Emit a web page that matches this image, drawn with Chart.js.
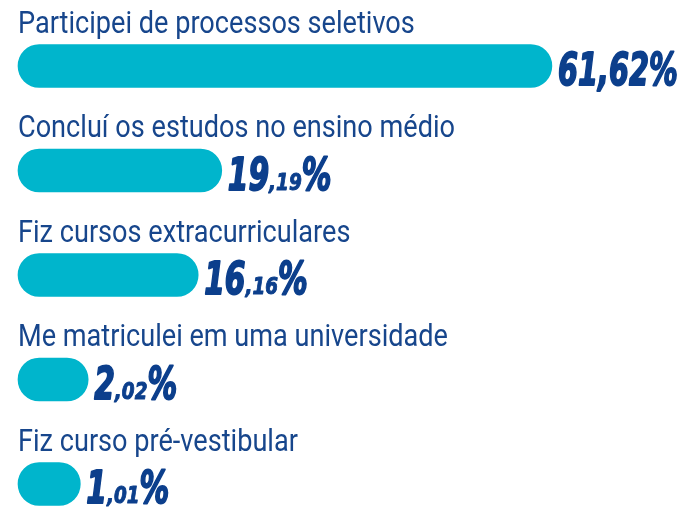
<!DOCTYPE html>
<html>
<head>
<meta charset="utf-8">
<script src="https://cdn.jsdelivr.net/npm/chart.js@4"></script>
<style>
  html, body { margin: 0; padding: 0; background: #fff; }
  #wrap { width: 684px; height: 513px; }
</style>
</head>
<body>
<div id="wrap"><canvas id="chart" width="684" height="513"></canvas></div>
<script>
const categories = [
  'Participei de processos seletivos',
  'Concluí os estudos no ensino médio',
  'Fiz cursos extracurriculares',
  'Me matriculei em uma universidade',
  'Fiz curso pré-vestibular'
]
const values = [61.62, 19.19, 16.16, 2.02, 1.01]
const valueTexts = ['61,62%', '19,19%', '16,16%', '2,02%', '1,01%']

const barColor = '#00b5cc'
const labelColor = '#17468c'
const valueColor = '#0c3f8c'

// draws text squeezed horizontally (no condensed font installed)
function drawSqueezed(ctx, text, x, y, sx, bold) {
  ctx.save()
  ctx.translate(x, y)
  ctx.scale(sx, 1)
  ctx.fillText(text, 0, 0)
  if (bold) {
    ctx.lineWidth = bold
    ctx.lineJoin = 'round'
    ctx.strokeStyle = ctx.fillStyle
    ctx.strokeText(text, 0, 0)
  }
  ctx.restore()
  return ctx.measureText(text).width * sx
}

const labelPlugin = {
  id: 'barLabels',
  afterDatasetsDraw(chart) {
    const ctx = chart.ctx
    const meta = chart.getDatasetMeta(0)
    meta.data.forEach((bar, i) => {
      const top = bar.y - bar.height / 2
      const left = Math.min(bar.x, bar.base)
      const right = Math.max(bar.x, bar.base)

      // category label above the bar
      ctx.fillStyle = labelColor
      ctx.textBaseline = 'alphabetic'
      ctx.textAlign = 'left'
      ctx.font = '31px Roboto'
      drawSqueezed(ctx, categories[i], left, top - 12, 0.875)

      // value label right of the bar, heavier look via a stroke
      ctx.fillStyle = valueColor
      const txt = valueTexts[i]
      const comma = txt.indexOf(',')
      const intPart = txt.slice(0, comma)
      const decPart = txt.slice(comma, txt.length - 1)
      const base = bar.y + 19
      let x = right + 6
      ctx.font = 'italic bold 45px "DejaVu Sans"'
      if (i === 0) {
        drawSqueezed(ctx, txt, x, base, 0.64, 2)
        return
      }
      x += drawSqueezed(ctx, intPart, x, base, 0.66, 2)
      ctx.font = 'italic bold 23px "DejaVu Sans"'
      x += drawSqueezed(ctx, decPart, x, base, 0.8, 1)
      ctx.font = 'italic bold 45px "DejaVu Sans"'
      drawSqueezed(ctx, '%', x, base, 0.66, 2)
    })
  }
}

new Chart(document.getElementById('chart'), {
  type: 'bar',
  data: {
    labels: categories,
    datasets: [{
      data: values,
      base: -7,
      backgroundColor: barColor,
      borderRadius: 22,
      borderSkipped: false,
      barThickness: 43,
      clip: false
    }]
  },
  options: {
    indexAxis: 'y',
    responsive: false,
    animation: false,
    layout: { padding: { left: 18, right: 28, top: 66, bottom: 29 } },
    plugins: {
      legend: { display: false },
      tooltip: { enabled: false }
    },
    scales: {
      x: { display: false, min: -7, max: 75 },
      y: { display: false, offset: false }
    }
  },
  plugins: [labelPlugin]
})
</script>
</body>
</html>
